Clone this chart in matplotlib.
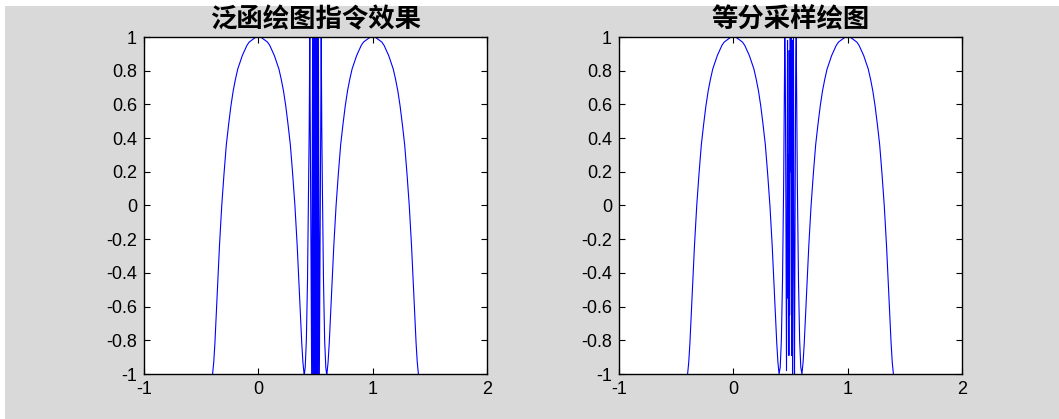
import matplotlib
matplotlib.use("Agg")
import matplotlib.pyplot as plt
from matplotlib.patches import Rectangle

plt.rcParams['axes.unicode_minus'] = False
plt.rcParams['font.family'] = ['Liberation Sans', 'DejaVu Sans']

titles = ['泛函绘图指令效果', '等分采样绘图']
xtick_vals = [-1, 0, 1, 2]
xtick_labels = ['-1', '0', '1', '2']
ytick_vals = [-1, -0.8, -0.6, -0.4, -0.2, 0, 0.2, 0.4, 0.6, 0.8, 1]
ytick_labels = ['-1', '-0.8', '-0.6', '-0.4', '-0.2', '0', '0.2', '0.4', '0.6', '0.8', '1']

# 两侧的拱形（两图相同，读图估计）
arch1_x = [-0.40, -0.39, -0.38, -0.36, -0.34, -0.32, -0.30, -0.28, -0.26, -0.24, -0.22,
           -0.20, -0.18, -0.16, -0.14, -0.12, -0.10, -0.08, -0.06, -0.04, -0.02, 0.00,
           0.02, 0.04, 0.06, 0.08, 0.10, 0.12, 0.14, 0.16, 0.18, 0.20,
           0.22, 0.24, 0.26, 0.28, 0.30, 0.32, 0.34, 0.36, 0.38, 0.39, 0.40]
arch2_x = [0.60, 0.61, 0.62, 0.64, 0.66, 0.68, 0.70, 0.72, 0.74, 0.76, 0.78,
           0.80, 0.82, 0.84, 0.86, 0.88, 0.90, 0.92, 0.94, 0.96, 0.98, 1.00,
           1.02, 1.04, 1.06, 1.08, 1.10, 1.12, 1.14, 1.16, 1.18, 1.20,
           1.22, 1.24, 1.26, 1.28, 1.30, 1.32, 1.34, 1.36, 1.38, 1.39, 1.40]
arch_y = [-1.00, -0.93, -0.82, -0.53, -0.24, 0.00, 0.19, 0.36, 0.48, 0.59, 0.68,
          0.75, 0.81, 0.85, 0.89, 0.92, 0.95, 0.97, 0.98, 0.99, 1.00, 1.00,
          1.00, 0.99, 0.98, 0.97, 0.95, 0.92, 0.89, 0.85, 0.81, 0.75,
          0.68, 0.59, 0.48, 0.36, 0.19, 0.00, -0.24, -0.53, -0.82, -0.93, -1.00]

# 左图中间密集振荡段（fplot 自适应）
fplot_mid_x = [0.403, 0.41, 0.42, 0.43, 0.44, 0.445, 0.4500, 0.4663, 0.4747, 0.4797,
               0.4831, 0.4855, 0.4873, 0.4887, 0.4899, 0.4908, 0.4916, 0.4923, 0.4929,
               0.4934, 0.4939, 0.4943, 0.4950, 0.4957, 0.4964, 0.4971, 0.4978, 0.4985,
               0.4992, 0.5008, 0.5015, 0.5022, 0.5029, 0.5036, 0.5043, 0.5050, 0.5057,
               0.5061, 0.5066, 0.5071, 0.5077, 0.5084, 0.5092, 0.5101, 0.5113, 0.5127,
               0.5145, 0.5169, 0.5203, 0.5253, 0.5337, 0.5500, 0.555, 0.56, 0.57,
               0.58, 0.59, 0.597]
fplot_mid_y = [-1.00, -0.96, -0.80, -0.45, 0.12, 0.46, 1, -1, 1, -1,
               1, -1, 1, -1, 1, -1, 1, -1, 1,
               -1, 1, -1, 1, -1, 1, -1, 1, -1,
               1, 1, -1, 1, -1, 1, -1, 1, -1,
               1, -1, 1, -1, 1, -1, 1, -1, 1,
               -1, 1, -1, 1, -1, 1, 0.46, 0.12, -0.45,
               -0.80, -0.96, -1.00]

# 右图中间段（等分采样）
even_mid_x = [0.41, 0.42, 0.43, 0.44, 0.45, 0.455, 0.460, 0.465, 0.470, 0.474, 0.478,
              0.482, 0.486, 0.489, 0.492, 0.495, 0.498, 0.502, 0.505, 0.508, 0.511,
              0.514, 0.518, 0.522, 0.526, 0.530, 0.535, 0.540, 0.545, 0.550, 0.56,
              0.57, 0.58, 0.59]
even_mid_y = [-0.96, -0.80, -0.45, 0.12, 1.00, 0.74, -0.06, -0.98, -0.10, 0.98, -0.55,
              0.30, -0.89, 0.92, -0.65, 0.45, 1.00, 0.20, 1.00, -0.30, -0.89,
              0.98, -1.00, 0.60, 0.99, -0.40, -1.00, -0.06, 0.74, 1.00, 0.12,
              -0.45, -0.80, -0.96]

curves = [
    (arch1_x + fplot_mid_x + arch2_x, arch_y + fplot_mid_y + arch_y),
    (arch1_x + even_mid_x + arch2_x, arch_y + even_mid_y + arch_y),
]

W, H = 1059, 419
fig = plt.figure(figsize=(W / 100, H / 100), dpi=100, facecolor='white')
fig.patches.append(Rectangle((5 / W, 0), 1, (H - 6) / H, transform=fig.transFigure,
                             facecolor='#d9d9d9', edgecolor='none', zorder=-1))

lefts = [144 / W, 619 / W]
for left, title, (cx, cy) in zip(lefts, titles, curves):
    ax = fig.add_axes([left, (H - 374) / H, 343 / W, 337 / H])
    ax.plot(cx, cy, color='#0000ff', lw=0.8)
    ax.set_xlim(-1, 2)
    ax.set_ylim(-1, 1)
    ax.set_xticks(xtick_vals)
    ax.set_xticklabels(xtick_labels)
    ax.set_yticks(ytick_vals)
    ax.set_yticklabels(ytick_labels)
    ax.tick_params(direction='in', length=4, width=0.8, labelsize=13,
                   top=True, right=True, pad=5)
    for s in ax.spines.values():
        s.set_linewidth(1.0)
    ax.set_title(title, fontsize=19, fontweight='bold', pad=7,
                 family=['Noto Sans CJK SC', 'DejaVu Sans'])

fig.savefig('out.png', dpi=100, facecolor=fig.get_facecolor())
